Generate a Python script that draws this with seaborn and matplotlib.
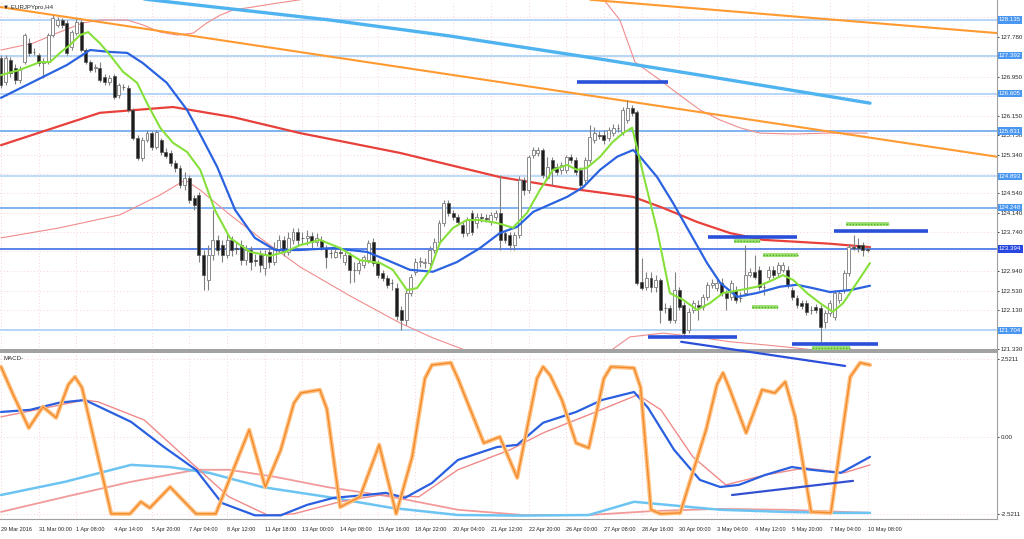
import matplotlib
matplotlib.use("Agg")
import matplotlib.pyplot as plt
import numpy as np
import seaborn as sns

# ---- EURJPYpro H4, bar values ----
OPEN = [
    127.35, 126.85, 127.30, 127.14, 126.89, 127.26, 127.65, 127.47, 127.41, 127.24,
    127.26, 127.82, 128.03, 128.13, 128.07, 127.57, 127.86, 128.09, 127.51, 127.26,
    127.14, 127.14, 126.95, 126.85, 126.97, 126.58, 126.75, 126.72, 126.27, 125.69,
    125.27, 125.65, 125.79, 125.50, 125.65, 125.40, 125.38, 125.17, 125.07, 124.72,
    124.86, 124.45, 124.51, 123.27, 122.75, 123.27, 123.58, 123.47, 123.27, 123.58,
    123.41, 123.47, 123.16, 123.37, 123.16, 123.27, 123.00, 123.33, 123.12, 123.37,
    123.58, 123.33, 123.58, 123.74, 123.62, 123.62, 123.66, 123.54, 123.58, 123.41,
    123.31, 123.23, 123.33, 123.12, 123.27, 122.96, 122.96, 123.06, 123.16, 123.54,
    123.10, 122.90, 122.79, 122.69, 122.58, 122.13, 121.92, 122.48, 122.92, 123.12,
    123.10, 123.10, 123.37, 123.54, 123.93, 124.34, 124.14, 124.05, 123.89, 123.72,
    124.14, 123.93, 124.05, 124.03, 123.95, 124.05, 124.14, 123.72, 123.68, 123.47,
    123.68, 124.82, 124.61, 125.34, 125.38, 125.44, 124.86, 125.24, 125.09, 125.03,
    125.03, 125.30, 125.24, 125.03, 124.82, 125.24, 125.65, 125.75, 125.75, 125.69,
    125.79, 125.90, 125.81, 126.06, 126.31, 126.23, 122.71, 122.61, 122.79, 122.61,
    122.75, 122.17, 122.17, 121.92, 122.54, 122.23, 121.72, 122.13, 122.23, 122.19,
    122.40, 122.65, 122.58, 122.69, 122.48, 122.40, 122.54, 122.38, 122.48, 122.85,
    122.92, 122.96, 122.61, 122.81, 122.96, 122.90, 122.96, 122.96, 122.54, 122.38,
    122.27, 122.27, 122.13, 122.19, 122.17, 121.88, 122.07, 121.98, 122.34, 122.54,
    122.90, 123.43, 123.47, 123.47, 123.39,
]
CLOSE = [
    126.79, 127.35, 127.03, 126.89, 127.10, 127.82, 127.45, 127.46, 127.24, 127.26,
    127.82, 128.17, 128.13, 128.03, 127.45, 127.88, 128.09, 127.51, 127.26, 127.10,
    127.16, 126.89, 126.85, 126.93, 126.54, 126.79, 126.74, 126.27, 125.69, 125.27,
    125.65, 125.79, 125.50, 125.81, 125.40, 125.32, 125.17, 125.07, 124.72, 124.86,
    124.41, 124.30, 123.27, 122.85, 123.27, 123.58, 123.37, 123.27, 123.58, 123.37,
    123.40, 123.16, 123.37, 123.12, 123.15, 123.06, 123.27, 123.12, 123.41, 123.58,
    123.33, 123.62, 123.74, 123.58, 123.61, 123.66, 123.54, 123.62, 123.43, 123.23,
    123.30, 123.33, 123.31, 123.27, 122.96, 122.95, 123.10, 123.23, 123.52, 123.10,
    122.85, 122.79, 122.65, 122.68, 122.00, 121.92, 122.48, 122.81, 123.12, 123.13,
    123.11, 123.37, 123.54, 123.93, 124.34, 124.14, 124.05, 123.95, 123.72, 123.99,
    123.74, 124.05, 124.04, 124.02, 124.10, 124.14, 123.58, 123.58, 123.47, 123.68,
    124.82, 124.61, 125.30, 125.44, 125.44, 124.92, 125.09, 125.03, 124.99, 125.13,
    125.30, 125.24, 124.99, 124.72, 125.24, 125.71, 125.79, 125.74, 125.65, 125.86,
    125.90, 125.89, 126.27, 126.31, 126.21, 122.69, 122.58, 122.79, 122.61, 122.75,
    122.13, 122.16, 121.92, 122.54, 122.19, 121.65, 122.09, 122.27, 122.19, 122.40,
    122.65, 122.69, 122.69, 122.48, 122.38, 122.69, 122.34, 122.37, 122.85, 122.92,
    122.81, 122.61, 122.60, 122.96, 122.85, 123.06, 123.06, 122.65, 122.40, 122.23,
    122.21, 122.09, 122.12, 122.13, 121.78, 122.07, 122.27, 122.48, 122.48, 122.90,
    123.43, 123.42, 123.41, 123.37, 123.38,
]
HIGH = [
    127.41, 127.41, 127.37, 127.22, 127.18, 127.86, 127.76, 127.55, 127.45, 127.35,
    127.86, 128.23, 128.19, 128.17, 128.13, 127.92, 128.15, 128.13, 127.55, 127.30,
    127.22, 127.26, 127.01, 126.99, 127.01, 126.83, 126.81, 126.79, 126.31, 125.75,
    125.71, 125.86, 125.83, 125.86, 125.69, 125.48, 125.44, 125.24, 125.13, 124.99,
    124.92, 124.51, 124.57, 123.37, 123.47, 124.20, 123.68, 123.58, 123.74, 123.66,
    123.54, 123.58, 123.47, 123.45, 123.29, 123.37, 123.37, 123.41, 123.54, 123.68,
    123.66, 123.74, 123.83, 123.83, 123.74, 123.78, 123.74, 123.72, 123.66, 123.47,
    123.41, 123.47, 123.41, 123.33, 123.33, 123.12, 123.16, 123.27, 123.58, 123.62,
    123.16, 122.96, 122.85, 122.77, 122.69, 122.21, 122.54, 122.87, 123.21, 123.23,
    123.21, 123.45, 123.62, 123.99, 124.41, 124.41, 124.20, 124.12, 123.95, 124.05,
    124.20, 124.14, 124.14, 124.12, 124.16, 124.20, 124.92, 123.78, 123.74, 123.74,
    124.90, 124.88, 125.34, 125.50, 125.50, 125.48, 125.30, 125.30, 125.17, 125.19,
    125.34, 125.36, 125.30, 125.09, 125.30, 125.96, 125.92, 125.83, 125.86, 125.92,
    125.98, 125.98, 126.33, 126.48, 126.37, 126.27, 123.21, 122.92, 122.92, 122.85,
    122.79, 122.27, 122.23, 122.92, 122.61, 122.30, 122.17, 122.34, 122.34, 122.46,
    122.71, 122.77, 122.77, 122.79, 122.54, 122.75, 122.63, 122.50, 123.47, 123.00,
    123.27, 123.04, 122.71, 123.04, 123.04, 123.12, 123.12, 123.04, 122.61, 122.44,
    122.34, 122.34, 122.21, 122.25, 122.23, 122.13, 122.34, 122.54, 122.54, 122.96,
    123.50, 123.68, 123.62, 123.54, 123.45,
]
LOW = [
    126.72, 126.79, 126.95, 126.81, 126.83, 127.22, 127.39, 127.41, 127.18, 126.93,
    127.22, 127.78, 127.99, 127.97, 127.41, 127.51, 127.82, 127.47, 127.22, 127.06,
    127.06, 126.85, 126.79, 126.79, 126.50, 126.52, 126.68, 126.23, 125.65, 125.24,
    125.21, 125.61, 125.44, 125.46, 125.34, 125.27, 125.11, 124.99, 124.65, 124.61,
    124.34, 124.20, 123.12, 122.54, 122.54, 123.16, 123.27, 123.12, 123.21, 123.25,
    123.29, 123.06, 123.06, 122.96, 123.04, 122.92, 122.85, 123.00, 123.06, 123.31,
    123.25, 123.27, 123.50, 123.45, 123.50, 123.47, 123.41, 123.45, 123.37, 123.00,
    123.21, 123.21, 123.21, 123.06, 122.69, 122.71, 122.87, 123.00, 123.10, 123.04,
    122.79, 122.73, 122.58, 122.54, 121.92, 121.72, 121.82, 122.42, 122.85, 123.02,
    123.00, 123.04, 123.31, 123.47, 123.87, 124.07, 123.99, 123.89, 123.64, 123.66,
    123.68, 123.83, 123.95, 123.95, 123.89, 123.99, 123.37, 123.52, 123.37, 123.37,
    123.62, 124.51, 124.55, 125.27, 125.32, 124.86, 124.82, 124.72, 124.92, 124.94,
    124.96, 125.17, 124.92, 124.61, 124.76, 125.17, 125.59, 125.67, 125.56, 125.63,
    125.73, 125.81, 125.75, 126.00, 126.15, 122.65, 122.54, 122.54, 122.50, 122.50,
    121.86, 122.07, 121.86, 121.86, 122.13, 121.59, 121.65, 122.07, 121.92, 122.13,
    122.34, 122.58, 122.52, 122.42, 122.13, 122.34, 122.27, 122.30, 122.42, 122.81,
    122.77, 122.54, 122.44, 122.75, 122.79, 122.83, 122.92, 122.58, 122.34, 122.17,
    122.15, 122.02, 122.05, 122.07, 121.47, 121.76, 122.00, 121.92, 122.27, 122.48,
    122.83, 123.37, 123.33, 123.25, 123.33,
]

TIME_LABELS = [
    "29 Mar 2016", "31 Mar 00:00", "1 Apr 08:00", "4 Apr 14:00", "5 Apr 20:00",
    "7 Apr 04:00", "8 Apr 12:00", "11 Apr 18:00", "13 Apr 00:00", "14 Apr 08:00",
    "15 Apr 16:00", "18 Apr 22:00", "20 Apr 04:00", "21 Apr 12:00", "22 Apr 20:00",
    "26 Apr 00:00", "27 Apr 08:00", "28 Apr 16:00", "30 Apr 00:00", "3 May 04:00",
    "4 May 12:00", "5 May 20:00", "7 May 04:00", "10 May 08:00",
]
BARS_PER_LABEL = 8

PRICE_TICKS = [128.190, 127.780, 127.370, 126.950, 126.550, 126.150, 125.750, 125.340,
               124.940, 124.540, 124.140, 123.740, 123.340, 122.940, 122.530, 122.130,
               121.730, 121.330]
LEVELS = [128.135, 127.392, 126.605, 125.831, 124.893, 124.248, 123.394, 121.704]

# moving averages (bar index, price)
MA_FAST_X = [0, 4, 8.3, 10.4, 12.5, 14.6, 16.8, 18.5, 21, 23.1, 25.9, 28.9, 31, 33.8, 36.5,
             39.5, 42.3, 45.4, 48.6, 52.9, 57.1, 60.3, 63.5, 67.7, 72, 76.2, 80.5, 83.2,
             86.2, 88.3, 91.1, 93.2, 96, 98.9, 101.7, 105.3, 108.7, 111.7, 114.4, 117.2,
             120.2, 122.3, 124.4, 127.2, 129.9, 132.1, 134, 136.3, 139.3, 142, 144.8,
             147.8, 150.5, 153.3, 156.9, 160.5, 163.9, 166, 168.2, 171.1, 173.9, 176.6,
             178.8, 181.7, 184.5]
MA_FAST_Y = [126.99, 127.10, 127.26, 127.26, 127.45, 127.61, 127.82, 127.88, 127.65, 127.41,
             127.06, 126.83, 126.41, 125.90, 125.59, 125.40, 125.03, 124.20, 123.62, 123.33,
             123.25, 123.33, 123.47, 123.58, 123.41, 123.16, 123.10, 122.96, 122.54, 122.58,
             122.96, 123.52, 123.83, 123.99, 123.99, 123.93, 123.83, 124.14, 124.61, 125.03,
             125.13, 125.03, 125.07, 125.30, 125.61, 125.79, 125.90, 124.96, 123.78, 122.48,
             122.34, 122.13, 122.27, 122.48, 122.54, 122.61, 122.75, 122.85, 122.75, 122.48,
             122.27, 122.09, 122.27, 122.69, 123.10]
MA_MID_X = [0, 6.8, 14, 18.9, 23.1, 26.8, 30.1, 35.2, 39.5, 42.9, 45.9, 49.7, 53.9, 58.2,
            63.5, 70.5, 77.7, 82, 86.8, 91.7, 96.8, 101.7, 105.9, 109.6, 113, 120.2, 123.6,
            127.2, 130.8, 134.2, 135.7, 139.3, 142.7, 146.3, 149.9, 152.7, 156.3, 160.5,
            165.4, 169, 172.4, 176, 180.3, 184.5]
MA_MID_Y = [126.52, 126.85, 127.20, 127.51, 127.47, 127.45, 127.24, 126.83, 126.27, 125.65,
            125.09, 124.20, 123.62, 123.37, 123.37, 123.41, 123.33, 123.16, 122.96, 122.92,
            123.12, 123.41, 123.72, 123.85, 124.16, 124.47, 124.67, 125.03, 125.30, 125.44,
            125.30, 124.88, 124.34, 123.72, 123.10, 122.69, 122.40, 122.48, 122.61, 122.65,
            122.58, 122.50, 122.54, 122.63]
MA_SLOW_X = [0, 21, 36.5, 49.3, 63.5, 84.7, 105.9, 120.2, 134.2, 140.6, 147.8, 154.8,
             161.8, 169, 176, 184.5]
MA_SLOW_Y = [125.54, 126.21, 126.33, 126.12, 125.79, 125.38, 124.88, 124.65, 124.47, 124.24,
             123.95, 123.72, 123.58, 123.54, 123.50, 123.43]
MA_LONG_X = [21, 31.6, 69.9, 95.3, 128.7, 148.4, 184.5]
MA_LONG_Y = [128.69, 128.55, 128.13, 127.80, 127.30, 126.99, 126.41]
BAND_UP_X = [0, 6.8, 11.9, 17.4, 21, 26.8, 30.1, 33.8, 37.4, 40.8, 43.7, 46.5, 49.3, 53.5,
             58.6, 63.5, 69.9, 127.2, 131.4, 134.6, 139.9, 143.5, 148.4, 152.7, 156.9,
             161.1, 168.2, 175.4, 183.9]
BAND_UP_Y = [127.51, 127.65, 127.86, 128.07, 128.13, 128.13, 128.03, 127.88, 127.82, 127.86,
             128.07, 128.23, 128.34, 128.40, 128.48, 128.55, 128.65, 128.65, 128.13, 127.26,
             126.89, 126.62, 126.27, 126.06, 125.90, 125.79, 125.77, 125.79, 125.79]
BAND_LO_X = [0, 12.5, 25.3, 33.8, 39.1, 42.3, 48.6, 55, 63.5, 74.1, 84.7, 91.7, 99.6, 116.6,
             127.2, 133.5, 140.6, 147.8, 154.8, 161.8, 169, 176, 184.5]
BAND_LO_Y = [123.62, 123.83, 124.10, 124.51, 124.82, 124.61, 124.10, 123.62, 123.02, 122.42,
             121.86, 121.55, 121.26, 120.99, 121.13, 121.57, 121.65, 121.57, 121.47, 121.41,
             121.34, 121.26, 121.18]

# trend lines and marker segments (bar index, price)
TREND_ORANGE = [((-0.2, 128.40), (211.5, 125.30)), ((125.1, 128.55), (211.5, 127.86))]
TREND_BLUE = ((144.4, 121.47), (179.2, 120.97))
RES_BLUE = [(122.3, 141.6, 126.85), (150.1, 169.0, 123.64), (176.9, 196.8, 123.76),
            (137.4, 156.3, 121.57), (167.9, 186.2, 121.43)]
RES_GREEN = [(155.6, 161.1, 123.56), (161.8, 169.2, 123.27), (159.4, 165.0, 122.19),
             (179.4, 188.5, 123.91), (172.2, 180.3, 121.34)]

# MACD window (bar index, value)
OSC_X = [0, 2.5, 5.9, 8.9, 11.7, 14.3, 15.7, 17.2, 23.4, 27.4, 29.7, 31.6, 35.9, 41.4, 45.6,
         52.7, 56.1, 59.4, 62.2, 63.7, 67.7, 69.2, 72, 76.2, 80.3, 83.9, 87.3, 90, 91.5, 95.5,
         97, 102.5, 105.9, 109.6, 113.8, 115.1, 116.6, 119.1, 122.1, 124.8, 128, 129.5,
         134.4, 135.8, 138, 140, 144.2, 149.7, 152, 153.3, 154.6, 158.2, 161.6, 164.3,
         166.5, 168.6, 172, 176.2, 180.3, 182.4, 184.5]
OSC_Y = [2.28, 1.4, 0.29, 0.98, 0.62, 1.7, 1.95, 1.6, -2.50, -2.50, -2.11, -2.31, -1.63,
         -2.50, -2.50, 0.23, -1.63, -0.42, 1.1, 1.43, 1.53, 0.9, -2.28, -1.95, -0.26, -2.50,
         -0.65, 1.9, 2.34, 2.41, 1.9, -0.20, 0.00, -1.33, 1.9, 2.28, 2.0, 1.20, -0.20, -0.36,
         1.9, 2.28, 2.24, 1.6, -2.37, -2.5, -2.47, 0.23, 1.7, 2.08, 1.6, 0.13, 1.53, 1.43,
         1.79, 0.65, -2.44, -2.47, 1.95, 2.41, 2.34]
MACD_X = [0, 6.2, 12.3, 17.8, 27.6, 34.6, 41.4, 46.9, 53.9, 59.4, 65, 70.7, 77.5, 81.7, 85.8,
          91.5, 97, 105.3, 109.6, 115.1, 122.1, 127.6, 134.4, 137.4, 142.9, 148.4, 152.7,
          156.7, 162.2, 167.9, 172, 178.3, 184.5]
MACD_Y = [0.81, 0.88, 1.11, 1.20, 0.49, -0.33, -1.07, -2.15, -2.55, -2.55, -2.21, -1.98,
          -1.89, -1.82, -1.98, -1.50, -0.75, -0.33, -0.26, 0.46, 0.81, 1.20, 1.46, 0.94, -0.42,
          -1.40, -1.63, -1.56, -1.24, -0.98, -1.07, -1.17, -0.65]
SIGNAL_X = [0, 17.8, 20.6, 30.4, 41.4, 48.4, 56.7, 62.2, 72, 80.5, 88.7, 97, 108.1, 115.1,
            124.8, 135.2, 140.1, 146.9, 153.9, 162.2, 170.7, 179, 184.5]
SIGNAL_Y = [0.65, 1.20, 1.14, 0.55, -0.98, -1.95, -2.55, -2.50, -2.11, -1.89, -1.95, -1.07,
            -0.42, 0.13, 0.72, 1.37, 0.88, -0.65, -1.56, -1.24, -1.01, -1.17, -0.91]
SLOW1_X = [0, 13.6, 27.6, 35.9, 44.2, 55.4, 69.2, 83, 97, 110.8, 124.8, 134.4, 141.4, 152.7,
           166.5, 177.5, 184.5]
SLOW1_Y = [-1.89, -1.46, -0.91, -0.98, -1.17, -1.63, -1.95, -2.31, -2.54, -2.56, -2.54,
           -2.11, -2.21, -2.37, -2.44, -2.47, -2.47]
SLOW2_X = [0, 13.6, 27.6, 41.4, 48.4, 58.2, 69.2, 83, 97, 110.8, 124.8, 138.6, 152.7, 166.5,
           184.5]
SLOW2_Y = [-2.44, -1.95, -1.46, -1.07, -1.07, -1.30, -1.63, -1.95, -2.37, -2.54, -2.54,
           -2.41, -2.34, -2.37, -2.47]
MACD_TREND = ((155.2, -1.89), (180.9, -1.43))
MACD_TICKS = [2.5211, 0.0, -2.5211]
MACD_TICK_LABELS = ["2.5211", "0.00", "-2.5211"]

# ---- figure ----
sns.set_style("white")
plt.rcParams["font.family"] = ["Liberation Sans", "DejaVu Sans"]
FS = 4.4
FS_X = 4.0
TXT = "#262626"

W, H = 1024, 539
fig = plt.figure(figsize=(W / 100, H / 100), dpi=100)
ax = fig.add_axes([0, 1 - 350 / H, 997 / W, 350 / H])
ax2 = fig.add_axes([0, 1 - 519 / H, 997 / W, 167 / H])
ax.set_zorder(3)
ax.patch.set_alpha(0)

XLIM = (-1 / 4.71, 996 / 4.71)
GRID = dict(color="#f2c4c4", linestyle=(0, (1, 3)), linewidth=0.6)
xticks = [i * BARS_PER_LABEL for i in range(len(TIME_LABELS))]

# level lines + price boxes on the right scale
level_col = ["#a9d0f7", "#a9d0f7", "#a9d0f7", "#6aa6f0", "#b3d6f8", "#6aa6f0", "#3f6fe6", "#a9d0f7"]
box_col = ["#4a97f2", "#4a97f2", "#4a97f2", "#4a97f2", "#4a97f2", "#4a97f2", "#2747e0", "#4a97f2"]
for lv, lc, bc in zip(LEVELS, level_col, box_col):
    ax.axhline(lv, color=lc, lw=1.2, zorder=1)
    ax.text(1.002, lv, f"{lv:.3f}", transform=ax.get_yaxis_transform(), fontsize=FS,
            color="white", va="center", ha="left", zorder=10,
            bbox=dict(boxstyle="square,pad=0.2", fc=bc, ec="none"))

# indicator lines
sns.lineplot(x=BAND_UP_X, y=BAND_UP_Y, ax=ax, color="#f08c8c", lw=0.8, sort=False, zorder=2)
sns.lineplot(x=BAND_LO_X, y=BAND_LO_Y, ax=ax, color="#f08c8c", lw=0.8, sort=False, zorder=2)
sns.lineplot(x=MA_LONG_X, y=MA_LONG_Y, ax=ax, color="#4fb3f0", lw=2.4, sort=False, zorder=2)
sns.lineplot(x=MA_SLOW_X, y=MA_SLOW_Y, ax=ax, color="#e8403a", lw=1.6, sort=False, zorder=2)
for (x0, y0), (x1, y1) in TREND_ORANGE:
    ax.plot([x0, x1], [y0, y1], color="#ff9a30", lw=1.5, zorder=2)

# candles
o, h, l, c = map(np.asarray, (OPEN, HIGH, LOW, CLOSE))
idx = np.arange(len(o))
up = c >= o
ax.vlines(idx, l, h, color="#808080", lw=0.8, zorder=3)
lo = np.minimum(o, c)
hh = np.maximum(np.abs(c - o), 0.012)
ax.bar(idx[up], hh[up], bottom=lo[up], width=0.62, color="white", edgecolor="#8a8a8a",
       linewidth=0.7, zorder=4)
ax.bar(idx[~up], hh[~up], bottom=lo[~up], width=0.62, color="#1c1c1c", edgecolor="#505050",
       linewidth=0.5, zorder=4)

sns.lineplot(x=MA_MID_X, y=MA_MID_Y, ax=ax, color="#2a62e0", lw=1.6, sort=False, zorder=5)
sns.lineplot(x=MA_FAST_X, y=MA_FAST_Y, ax=ax, color="#86e03a", lw=1.5, sort=False, zorder=6)

for x0, x1, y in RES_BLUE:
    ax.plot([x0, x1], [y, y], color="#2a4fd8", lw=2.6, solid_capstyle="butt", zorder=7)
for x0, x1, y in RES_GREEN:
    ax.plot([x0, x1], [y, y], color="#9de070", lw=2.8, solid_capstyle="butt", zorder=7)
    ax.plot([x0, x1], [y, y], color="#4caf2a", lw=1.0, ls=(0, (1, 1.2)), zorder=8)
(tx0, ty0), (tx1, ty1) = TREND_BLUE
ax.plot([tx0, tx1], [ty0, ty1], color="#2a4fd8", lw=1.6, zorder=9, clip_on=False)

ax.set_xlim(*XLIM)
ax.set_ylim(128.545 - 0.0207 * 350, 128.545)
ax.set_xticks(xticks)
ax.set_xticklabels([])
ax.tick_params(axis="x", length=0)
ax.yaxis.tick_right()
ax.set_yticks(PRICE_TICKS)
# tick labels that sit under a level box are hidden, as on the terminal
ax.set_yticklabels(["" if min(abs(t - lv) for lv in LEVELS) < 0.07 else f"{t:.3f}"
                    for t in PRICE_TICKS])
ax.tick_params(axis="y", length=1.5, width=0.6, pad=1, labelsize=FS, colors=TXT)
ax.grid(True, **GRID)
ax.set_xlabel("")
ax.set_ylabel("")
for s in ("top", "left"):
    ax.spines[s].set_visible(False)
ax.spines["right"].set_color("#a0a0a0")
ax.spines["bottom"].set_color("#a0a0a0")
ax.spines["bottom"].set_linewidth(1.4)

# MACD window
sns.lineplot(x=SLOW2_X, y=SLOW2_Y, ax=ax2, color="#f29a9a", lw=1.3, sort=False)
sns.lineplot(x=SLOW1_X, y=SLOW1_Y, ax=ax2, color="#6cc4f2", lw=1.8, sort=False)
sns.lineplot(x=SIGNAL_X, y=SIGNAL_Y, ax=ax2, color="#f08a8a", lw=1.0, sort=False)
sns.lineplot(x=MACD_X, y=MACD_Y, ax=ax2, color="#2a5fe0", lw=1.6, sort=False)
sns.lineplot(x=OSC_X, y=OSC_Y, ax=ax2, color="#ffc080", lw=3.0, sort=False)
sns.lineplot(x=OSC_X, y=OSC_Y, ax=ax2, color="#f28a2c", lw=1.0, sort=False)
(mx0, my0), (mx1, my1) = MACD_TREND
ax2.plot([mx0, mx1], [my0, my1], color="#3350d0", lw=1.6)

ax2.set_xlim(*XLIM)
ax2.set_ylim(-2.67, 2.76)
ax2.set_xticks(xticks)
ax2.set_xticklabels(TIME_LABELS)
for lbl in ax2.get_xticklabels():
    lbl.set_ha("left")
ax2.tick_params(axis="x", length=3, width=0.6, pad=2.5, labelsize=FS_X, colors=TXT)
ax2.yaxis.tick_right()
ax2.set_yticks(MACD_TICKS)
ax2.set_yticklabels(MACD_TICK_LABELS)
ax2.tick_params(axis="y", length=1.5, width=0.6, pad=1, labelsize=FS, colors=TXT)
ax2.grid(True, **GRID)
ax2.set_xlabel("")
ax2.set_ylabel("")
ax2.spines["left"].set_visible(False)
for s in ("top", "right", "bottom"):
    ax2.spines[s].set_color("#a0a0a0")
ax2.spines["top"].set_linewidth(1.4)

fig.text(3 / W, 1 - 7 / H, "\u25bc EURJPYpro,H4", fontsize=FS, va="center", color=TXT)
fig.text(3 / W, 1 - 359 / H, "MACD-", fontsize=FS, va="center", color=TXT)

fig.savefig("out.png", dpi=100, facecolor="white")
